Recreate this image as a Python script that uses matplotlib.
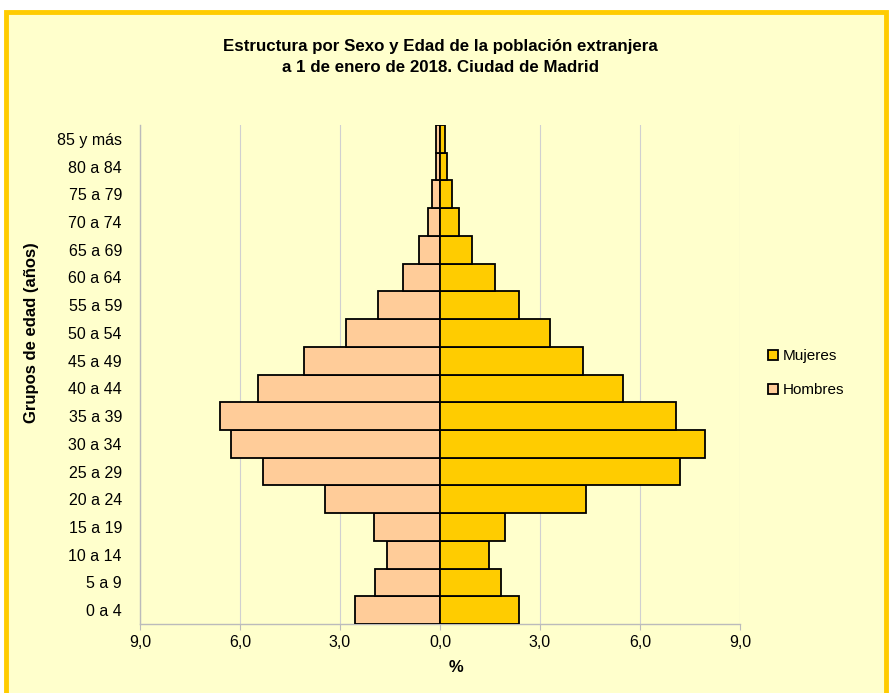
import matplotlib.pyplot as plt
from matplotlib.patches import Rectangle
from matplotlib.lines import Line2D

plt.rcParams['font.family'] = ['Liberation Sans', 'DejaVu Sans']

grupos = ['0 a 4', '5 a 9', '10 a 14', '15 a 19', '20 a 24', '25 a 29', '30 a 34',
          '35 a 39', '40 a 44', '45 a 49', '50 a 54', '55 a 59', '60 a 64',
          '65 a 69', '70 a 74', '75 a 79', '80 a 84', '85 y más']
hombres = [2.54, 1.94, 1.59, 1.97, 3.45, 5.30, 6.28, 6.60, 5.47, 4.09, 2.81, 1.85,
           1.10, 0.62, 0.35, 0.23, 0.13, 0.12]
mujeres = [2.37, 1.82, 1.48, 1.96, 4.39, 7.21, 7.95, 7.08, 5.50, 4.29, 3.29, 2.37,
           1.64, 0.97, 0.56, 0.35, 0.20, 0.15]
xticks = [-9, -6, -3, 0, 3, 6, 9]
xlabels = ['9,0', '6,0', '3,0', '0,0', '3,0', '6,0', '9,0']

W, H = 892, 693
fig = plt.figure(figsize=(W / 100, H / 100), dpi=100, facecolor='white')
fig.patches.append(Rectangle((6 / W, -0.05), (886 - 6) / W, 1.05 - 12 / H,
                             transform=fig.transFigure, facecolor='#FFFFCC',
                             edgecolor='#FFCC00', linewidth=3.5, zorder=-10))

ax = fig.add_axes([140 / W, 1 - 624 / H, 600 / W, 499 / H])
ax.patch.set_alpha(0)

y = range(len(grupos))
ax.barh(y, [-v for v in hombres], height=1.0, color='#FFCC99', edgecolor='black',
        linewidth=1.3, label='Hombres', zorder=3)
ax.barh(y, mujeres, height=1.0, color='#FFCC00', edgecolor='black',
        linewidth=1.3, label='Mujeres', zorder=3)

ax.set_xlim(-9, 9)
ax.set_ylim(-0.5, len(grupos) - 0.5)
ax.set_xticks(xticks)
ax.set_xticklabels(xlabels, fontsize=11.5)
ax.set_yticks(list(y))
ax.set_yticklabels(grupos, fontsize=11.5)
ax.tick_params(axis='y', length=0, pad=13)
ax.tick_params(axis='x', length=4, color='#BBBBBB', pad=4)
ax.grid(axis='x', color='#D0D0D0', linewidth=0.8, zorder=0)
for s in ['top', 'right']:
    ax.spines[s].set_visible(False)
for s in ['left', 'bottom']:
    ax.spines[s].set_color('#BBBBBB')
    ax.spines[s].set_linewidth(1.0)

fig.text(440 / W, 1 - 46 / H, 'Estructura por Sexo y Edad de la población extranjera',
         ha='center', va='center', fontsize=12.2, fontweight='bold')
fig.text(440 / W, 1 - 68 / H, 'a 1 de enero de 2018. Ciudad de Madrid',
         ha='center', va='center', fontsize=12.2, fontweight='bold')
fig.text(32 / W, 1 - 333 / H, 'Grupos de edad (años)', rotation=90,
         ha='center', va='center', fontsize=12, fontweight='bold')
fig.text(456 / W, 1 - 667 / H, '%', ha='center', va='center',
         fontsize=12, fontweight='bold')

handles = [Line2D([], [], marker='s', linestyle='', markersize=7,
                  markerfacecolor='#FFCC00', markeredgecolor='black', markeredgewidth=1.3),
           Line2D([], [], marker='s', linestyle='', markersize=7,
                  markerfacecolor='#FFCC99', markeredgecolor='black', markeredgewidth=1.3)]
fig.legend(handles, ['Mujeres', 'Hombres'], loc='center left',
           bbox_to_anchor=(755 / W, 1 - 373 / H), frameon=False, fontsize=11,
           handlelength=0.6, handletextpad=0.3, labelspacing=1.3)

fig.savefig('out.png', dpi=100, facecolor='white')
